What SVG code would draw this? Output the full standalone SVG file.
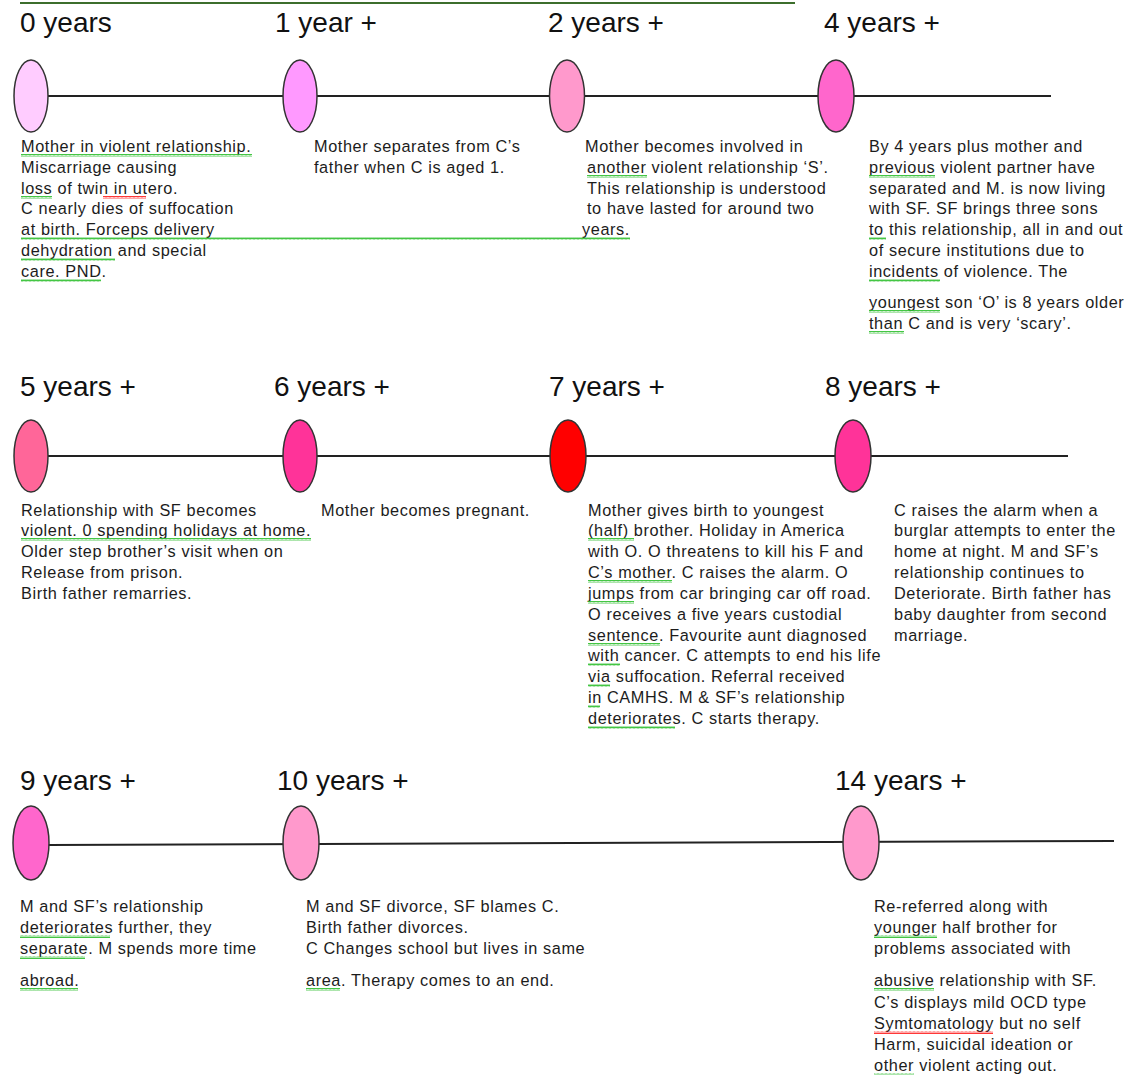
<svg xmlns="http://www.w3.org/2000/svg" width="1131" height="1075" viewBox="0 0 1131 1075">
<defs>
<style>
.h{font-family:"Liberation Sans",Arial,sans-serif;font-size:28px;fill:#111}
.t{font-family:"Liberation Sans",Arial,sans-serif;font-size:16.3px;letter-spacing:0.6px;fill:#1c1c1c}
.e{stroke:#333;stroke-width:1.5}
.c{stroke:#222;stroke-width:2;fill:none}
.g{fill:url(#wg)}
.r{fill:url(#wr)}
</style>
<pattern id="wg" width="4" height="3" patternUnits="userSpaceOnUse"><path d="M0,2.5 L1,0.5 L2,2.5 L3,0.5 L4,2.5" fill="none" stroke="#2fbf2f" stroke-width="0.9"/></pattern>
<pattern id="wr" width="4" height="3" patternUnits="userSpaceOnUse"><path d="M0,2.5 L1,0.5 L2,2.5 L3,0.5 L4,2.5" fill="none" stroke="#ff2020" stroke-width="0.9"/></pattern>
</defs>
<rect width="1131" height="1075" fill="#fff"/>
<line x1="20" y1="3" x2="795" y2="3" stroke="#3c6e2c" stroke-width="2"/>

<g id="connectors">
<line class="c" x1="48" y1="96" x2="1051" y2="96"/>
<line class="c" x1="48" y1="456" x2="1068" y2="456"/>
<line class="c" x1="48" y1="845" x2="1114" y2="841" stroke="#444"/>
</g>

<g id="n0">
<text class="h" x="20" y="32">0 years</text>
<ellipse class="e" cx="31" cy="96" rx="17" ry="36" fill="#ffccff"/>
<text class="t"><tspan x="21" y="152">Mother in violent relationship.</tspan><tspan x="21" y="173">Miscarriage causing</tspan><tspan x="21" y="194">loss of twin in utero.</tspan><tspan x="21" y="214">C nearly dies of suffocation</tspan><tspan x="21" y="235">at birth. Forceps delivery</tspan><tspan x="21" y="256">dehydration and special</tspan><tspan x="21" y="277">care. PND.</tspan></text>
</g>

<g id="n1">
<text class="h" x="275" y="32">1 year +</text>
<ellipse class="e" cx="300" cy="96" rx="17" ry="36" fill="#ff99ff"/>
<text class="t"><tspan x="314" y="152">Mother separates from C’s</tspan><tspan x="314" y="173">father when C is aged 1.</tspan></text>
</g>

<g id="n2">
<text class="h" x="548" y="32">2 years +</text>
<ellipse class="e" cx="567" cy="96" rx="17.5" ry="36" fill="#ff99cc"/>
<text class="t"><tspan x="585" y="152">Mother becomes involved in</tspan><tspan x="587" y="173">another violent relationship ‘S’.</tspan><tspan x="587" y="194">This relationship is understood</tspan><tspan x="587" y="214">to have lasted for around two</tspan><tspan x="582" y="235">years.</tspan></text>
</g>

<g id="n4">
<text class="h" x="824" y="32">4 years +</text>
<ellipse class="e" cx="836" cy="96" rx="18" ry="36" fill="#ff66cc"/>
<text class="t"><tspan x="869" y="152">By 4 years plus mother and</tspan><tspan x="869" y="173">previous violent partner have</tspan><tspan x="869" y="194">separated and M. is now living</tspan><tspan x="869" y="214">with SF. SF brings three sons</tspan><tspan x="869" y="235">to this relationship, all in and out</tspan><tspan x="869" y="256">of secure institutions due to</tspan><tspan x="869" y="277">incidents of violence. The</tspan><tspan x="869" y="308">youngest son ‘O’ is 8 years older</tspan><tspan x="869" y="329">than C and is very ‘scary’.</tspan></text>
</g>

<g id="n5">
<text class="h" x="20" y="396">5 years +</text>
<ellipse class="e" cx="31" cy="456" rx="17" ry="36" fill="#ff6699"/>
<text class="t"><tspan x="21" y="516">Relationship with SF becomes</tspan><tspan x="21" y="536">violent. 0 spending holidays at home.</tspan><tspan x="21" y="557">Older step brother’s visit when on</tspan><tspan x="21" y="578">Release from prison.</tspan><tspan x="21" y="599">Birth father remarries.</tspan></text>
</g>

<g id="n6">
<text class="h" x="274" y="396">6 years +</text>
<ellipse class="e" cx="300" cy="456" rx="17" ry="36" fill="#ff3399"/>
<text class="t"><tspan x="321" y="516">Mother becomes pregnant.</tspan></text>
</g>

<g id="n7">
<text class="h" x="549" y="396">7 years +</text>
<ellipse class="e" cx="568" cy="456" rx="18" ry="36" fill="#ff0000"/>
<text class="t"><tspan x="588" y="516">Mother gives birth to youngest</tspan><tspan x="588" y="536">(half) brother. Holiday in America</tspan><tspan x="588" y="557">with O. O threatens to kill his F and</tspan><tspan x="588" y="578">C’s mother. C raises the alarm. O</tspan><tspan x="588" y="599">jumps from car bringing car off road.</tspan><tspan x="588" y="620">O receives a five years custodial</tspan><tspan x="588" y="641">sentence. Favourite aunt diagnosed</tspan><tspan x="588" y="661">with cancer. C attempts to end his life</tspan><tspan x="588" y="682">via suffocation. Referral received</tspan><tspan x="588" y="703">in CAMHS. M &amp; SF’s relationship</tspan><tspan x="588" y="724">deteriorates. C starts therapy.</tspan></text>
</g>

<g id="n8">
<text class="h" x="825" y="396">8 years +</text>
<ellipse class="e" cx="853" cy="456" rx="18" ry="36" fill="#ff3399"/>
<text class="t"><tspan x="894" y="516">C raises the alarm when a</tspan><tspan x="894" y="536">burglar attempts to enter the</tspan><tspan x="894" y="557">home at night. M and SF’s</tspan><tspan x="894" y="578">relationship continues to</tspan><tspan x="894" y="599">Deteriorate. Birth father has</tspan><tspan x="894" y="620">baby daughter from second</tspan><tspan x="894" y="641">marriage.</tspan></text>
</g>

<g id="n9">
<text class="h" x="20" y="790">9 years +</text>
<ellipse class="e" cx="31" cy="843" rx="18" ry="37" fill="#ff66cc"/>
<text class="t"><tspan x="20" y="912">M and SF’s relationship</tspan><tspan x="20" y="933">deteriorates further, they</tspan><tspan x="20" y="954">separate. M spends more time</tspan><tspan x="20" y="986">abroad.</tspan></text>
</g>

<g id="n10">
<text class="h" x="277" y="790">10 years +</text>
<ellipse class="e" cx="301" cy="843" rx="18" ry="37" fill="#ff99cc"/>
<text class="t"><tspan x="306" y="912">M and SF divorce, SF blames C.</tspan><tspan x="306" y="933">Birth father divorces.</tspan><tspan x="306" y="954">C Changes school but lives in same</tspan><tspan x="306" y="986">area. Therapy comes to an end.</tspan></text>
</g>

<g id="n14">
<text class="h" x="835" y="790">14 years +</text>
<ellipse class="e" cx="861" cy="843" rx="18" ry="37" fill="#ff99cc"/>
<text class="t"><tspan x="874" y="912">Re-referred along with</tspan><tspan x="874" y="933">younger half brother for</tspan><tspan x="874" y="954">problems associated with</tspan><tspan x="874" y="986">abusive relationship with SF.</tspan><tspan x="874" y="1008">C’s displays mild OCD type</tspan><tspan x="874" y="1029">Symtomatology but no self</tspan><tspan x="874" y="1050">Harm, suicidal ideation or</tspan><tspan x="874" y="1071">other violent acting out.</tspan></text>
</g>

<g id="spellcheck">
<rect class="g" x="21" y="154" width="231" height="3"/>
<rect class="g" x="21" y="196" width="31" height="3"/>
<rect class="r" x="103" y="196" width="43" height="3"/>
<rect class="g" x="21" y="237" width="609" height="3"/>
<rect class="g" x="21" y="258" width="94" height="3"/>
<rect class="g" x="21" y="279" width="80" height="3"/>
<rect class="g" x="587" y="175" width="60" height="3"/>
<rect class="g" x="869" y="175" width="66" height="3"/>
<rect class="g" x="869" y="237" width="17" height="3"/>
<rect class="g" x="869" y="279" width="71" height="3"/>
<rect class="g" x="869" y="310" width="71" height="3"/>
<rect class="g" x="869" y="331" width="35" height="3"/>
<rect class="g" x="21" y="538" width="290" height="3"/>
<rect class="g" x="588" y="538" width="46" height="3"/>
<rect class="g" x="588" y="580" width="84" height="3"/>
<rect class="g" x="588" y="601" width="46" height="3"/>
<rect class="g" x="588" y="643" width="72" height="3"/>
<rect class="g" x="588" y="663" width="32" height="3"/>
<rect class="g" x="588" y="684" width="22" height="3"/>
<rect class="g" x="588" y="705" width="12" height="3"/>
<rect class="g" x="588" y="726" width="87" height="3"/>
<rect class="g" x="20" y="935" width="90" height="3"/>
<rect class="g" x="20" y="956" width="65" height="3"/>
<rect class="g" x="20" y="988" width="58" height="3"/>
<rect class="g" x="306" y="988" width="34" height="3"/>
<rect class="g" x="874" y="935" width="63" height="3"/>
<rect class="g" x="874" y="988" width="60" height="3"/>
<rect class="r" x="874" y="1031" width="119" height="3"/>
<rect class="g" x="874" y="1073" width="40" height="2"/>
</g>
</svg>
